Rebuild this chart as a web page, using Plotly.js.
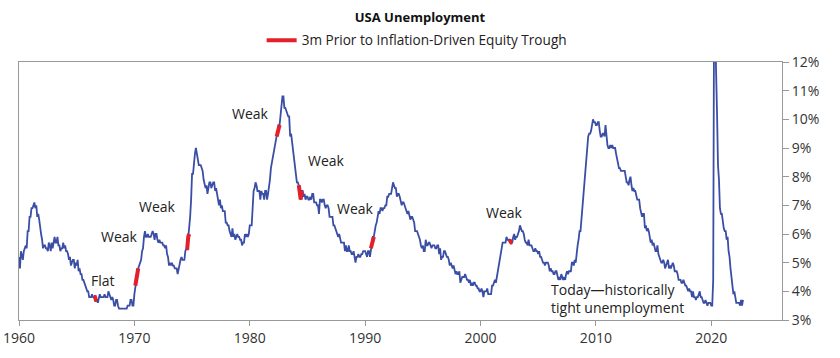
<!DOCTYPE html>
<html>
<head>
<meta charset="utf-8">
<script src="https://cdn.plot.ly/plotly-3.0.1.min.js"></script>
<style>html,body{margin:0;padding:0;background:#fff;}#chart{width:840px;height:358px;}</style>
</head>
<body>
<div id="chart"></div>
<script>
// Monthly US unemployment rate (%), Jan of start year onward
const startYear = 1960;
const u1960s = [
5.2,4.8,5.4,5.2,5.1,5.4,5.5,5.6,5.5,6.1,6.1,6.6,
6.6,6.9,6.9,7.0,7.1,6.9,7.0,6.6,6.7,6.5,6.1,6.0,
5.8,5.5,5.6,5.6,5.5,5.5,5.4,5.7,5.6,5.4,5.7,5.5,
5.7,5.9,5.7,5.7,5.9,5.6,5.6,5.4,5.5,5.5,5.7,5.5,
5.6,5.4,5.4,5.3,5.1,5.2,4.9,5.0,5.1,5.1,4.8,5.0,
4.9,5.1,4.7,4.8,4.6,4.6,4.4,4.4,4.3,4.2,4.1,4.0,
4.0,3.8,3.8,3.8,3.9,3.8,3.8,3.8,3.7,3.7,3.6,3.8,
3.9,3.8,3.8,3.8,3.8,3.9,3.8,3.8,3.8,4.0,3.9,3.8,
3.7,3.8,3.7,3.5,3.5,3.7,3.7,3.5,3.4,3.4,3.4,3.4,
3.4,3.4,3.4,3.4,3.4,3.5,3.5,3.5,3.7,3.7,3.5,3.5];
const u1970s = [
3.9,4.2,4.4,4.6,4.8,4.9,5.0,5.1,5.4,5.5,5.9,6.1,
5.9,5.9,6.0,5.9,5.9,5.9,6.0,6.1,6.0,5.8,6.0,6.0,
5.8,5.7,5.8,5.7,5.7,5.7,5.6,5.6,5.5,5.6,5.3,5.2,
4.9,5.0,4.9,5.0,4.9,4.9,4.8,4.8,4.8,4.6,4.8,4.9,
5.1,5.2,5.1,5.1,5.1,5.4,5.5,5.5,5.9,6.0,6.6,7.2,
8.1,8.1,8.6,8.8,9.0,8.8,8.6,8.4,8.4,8.4,8.3,8.2,
7.9,7.7,7.6,7.7,7.4,7.6,7.8,7.8,7.6,7.7,7.8,7.8,
7.5,7.6,7.4,7.2,7.0,7.2,6.9,7.0,6.8,6.8,6.8,6.4,
6.4,6.3,6.3,6.1,6.0,5.9,6.2,5.9,6.0,5.8,5.9,6.0,
5.9,5.9,5.8,5.8,5.6,5.7,5.7,6.0,5.9,6.0,5.9,6.0];
const u1980s = [
6.3,6.3,6.3,6.9,7.5,7.6,7.8,7.7,7.5,7.5,7.5,7.2,
7.5,7.4,7.4,7.2,7.5,7.5,7.2,7.4,7.6,7.9,8.3,8.5,
8.6,8.9,9.0,9.3,9.4,9.6,9.8,9.8,10.1,10.4,10.8,10.8,
10.4,10.4,10.3,10.2,10.1,10.1,9.4,9.5,9.2,8.8,8.5,8.3,
8.0,7.8,7.8,7.7,7.4,7.2,7.5,7.5,7.3,7.4,7.2,7.3,
7.3,7.2,7.2,7.3,7.2,7.4,7.4,7.1,7.1,7.1,7.0,7.0,
6.7,7.2,7.2,7.1,7.2,7.2,7.0,6.9,7.0,7.0,6.9,6.6,
6.6,6.6,6.6,6.3,6.3,6.2,6.1,6.0,5.9,6.0,5.8,5.7,
5.7,5.7,5.7,5.4,5.6,5.4,5.4,5.6,5.4,5.4,5.3,5.3,
5.4,5.2,5.0,5.2,5.2,5.3,5.2,5.2,5.3,5.3,5.4,5.4];
const u1990s = [
5.4,5.3,5.2,5.4,5.4,5.2,5.5,5.7,5.9,5.9,6.2,6.3,
6.4,6.6,6.8,6.7,6.9,6.9,6.8,6.9,6.9,7.0,7.0,7.3,
7.3,7.4,7.4,7.4,7.6,7.8,7.7,7.6,7.6,7.3,7.4,7.4,
7.3,7.1,7.0,7.1,7.1,7.0,6.9,6.8,6.7,6.8,6.6,6.5,
6.6,6.6,6.5,6.4,6.1,6.1,6.1,6.0,5.9,5.8,5.6,5.5,
5.6,5.4,5.4,5.8,5.6,5.6,5.7,5.7,5.6,5.5,5.6,5.6,
5.6,5.5,5.5,5.6,5.6,5.3,5.5,5.1,5.2,5.2,5.4,5.4,
5.3,5.2,5.2,5.1,4.9,5.0,4.9,4.8,4.9,4.7,4.6,4.7,
4.6,4.6,4.7,4.3,4.4,4.5,4.5,4.5,4.6,4.5,4.4,4.4,
4.3,4.4,4.2,4.3,4.2,4.3,4.3,4.2,4.2,4.1,4.1,4.0];
const u2000s = [
4.0,4.1,4.0,3.8,4.0,4.0,4.0,4.1,3.9,3.9,3.9,3.9,
4.2,4.2,4.3,4.4,4.3,4.5,4.6,4.9,5.0,5.3,5.5,5.7,
5.7,5.7,5.7,5.9,5.8,5.8,5.8,5.7,5.7,5.7,5.9,6.0,
5.8,5.9,5.9,6.0,6.1,6.3,6.2,6.1,6.1,6.0,5.8,5.7,
5.7,5.6,5.8,5.6,5.6,5.6,5.5,5.4,5.4,5.5,5.4,5.4,
5.3,5.4,5.2,5.2,5.1,5.0,5.0,4.9,5.0,5.0,5.0,4.9,
4.7,4.8,4.7,4.7,4.6,4.6,4.7,4.7,4.5,4.4,4.5,4.4,
4.6,4.5,4.4,4.5,4.4,4.6,4.7,4.6,4.7,4.7,4.7,5.0,
5.0,4.9,5.1,5.0,5.4,5.6,5.8,6.1,6.1,6.5,6.8,7.3,
7.8,8.3,8.7,9.0,9.4,9.5,9.5,9.6,9.8,10.0,9.9,9.9];
const u2010s = [
9.8,9.8,9.9,9.9,9.6,9.4,9.4,9.5,9.5,9.4,9.8,9.3,
9.1,9.0,9.0,9.1,9.0,9.1,9.0,9.0,9.0,8.8,8.6,8.5,
8.3,8.3,8.2,8.2,8.2,8.2,8.2,8.0,7.8,7.8,7.7,7.9,
8.0,7.7,7.5,7.6,7.5,7.5,7.3,7.2,7.2,7.2,6.9,6.7,
6.6,6.7,6.7,6.2,6.3,6.1,6.2,6.1,5.9,5.7,5.8,5.6,
5.7,5.5,5.4,5.4,5.6,5.3,5.2,5.1,5.0,5.0,5.1,5.0,
4.8,4.9,5.0,5.1,4.8,4.9,4.8,4.9,5.0,4.9,4.7,4.7,
4.7,4.6,4.4,4.4,4.4,4.3,4.3,4.4,4.3,4.2,4.2,4.1,
4.0,4.1,4.0,4.0,3.8,4.0,3.8,3.8,3.7,3.8,3.8,3.9,
4.0,3.8,3.8,3.7,3.6,3.6,3.7,3.6,3.5,3.6,3.6,3.6];
const u2020s = [
3.5,3.5,4.4,14.7,13.2,11.0,10.2,8.4,7.9,6.9,6.7,6.7,
6.4,6.2,6.1,6.1,5.8,5.9,5.4,5.2,4.8,4.5,4.2,3.9,
4.0,3.8,3.6,3.6,3.6,3.6,3.5,3.7,3.5,3.7];

// Periods 3 months prior to inflation-driven equity troughs [start, end] as year-month
const redPeriods = [
  ['1966-07','1966-10'],
  ['1970-02','1970-05'],
  ['1974-07','1974-10'],
  ['1982-05','1982-08'],
  ['1984-04','1984-07'],
  ['1990-07','1990-10'],
  ['2002-07','2002-10']
];

// Text labels
const labelTexts = ['Flat','Weak','Weak','Weak','Weak','Weak','Weak'];
const labelX = [1967.29,1968.67,1971.97,1980.03,1986.63,1989.14,2002.06];
const labelY = [4.39,5.93,6.97,10.21,8.57,6.90,6.76];
const todayText = 'Today\u2014historically<br>tight unemployment';
const todayX = 2005.97;
const todayY = 3.74;

const yTickVals = [3,4,5,6,7,8,9,10,11,12];
const xTickVals = [1960,1970,1980,1990,2000,2010,2020];

const values = [].concat(u1960s,u1970s,u1980s,u1990s,u2000s,u2010s,u2020s);
const xs = values.map((v,i)=> startYear + i/12);
const toIdx = s => { const [y,m] = s.split('-').map(Number); return (y-startYear)*12 + (m-1); };
const redVals = values.map((v,i)=> redPeriods.some(p => i>=toIdx(p[0]) && i<=toIdx(p[1])) ? v : null);

const fontFam = '"Open Sans", "DejaVu Sans", sans-serif';
const annotations = labelTexts.map((t,i)=>({
  x: labelX[i], y: labelY[i], xref:'x', yref:'y', text:t, showarrow:false,
  xanchor:'center', yanchor:'middle', font:{family:fontFam, size:14, color:'#222'}
})).concat([{
  x: todayX, y: todayY, xref:'x', yref:'y', text:todayText, showarrow:false, align:'left',
  xanchor:'left', yanchor:'middle', font:{family:fontFam, size:14, color:'#222'}
}]);

const traces = [
  {x: xs, y: values, type:'scatter', mode:'lines', line:{color:'#3a4ea6', width:1.8}, showlegend:false, hoverinfo:'skip'},
  {x: xs, y: redVals, type:'scatter', mode:'lines', line:{color:'#e3202a', width:4}, connectgaps:false,
   name:'3m Prior to Inflation-Driven Equity Trough', showlegend:true}
];

const layout = {
  width:840, height:358,
  margin:{l:19, r:58, t:62, b:38},
  paper_bgcolor:'#fff', plot_bgcolor:'#fff',
  font:{family:fontFam, color:'#222'},
  title:{text:'<b>USA Unemployment</b>', x:0.5, xref:'container', y:0.95, yref:'container', yanchor:'middle', xanchor:'center',
         font:{family:fontFam, size:13, color:'#111'}},
  showlegend:true,
  legend:{orientation:'h', x:0.318, xanchor:'left', y:1.084, yanchor:'middle', font:{family:fontFam, size:13.6, color:'#222'}, bgcolor:'rgba(0,0,0,0)'},
  xaxis:{range:[1960,2026.13], tickvals:xTickVals, ticktext:xTickVals.map(String), ticks:'outside', ticklen:5, tickcolor:'#999',
         showline:true, linecolor:'#999', linewidth:1, mirror:true, showgrid:false, zeroline:false,
         tickfont:{family:fontFam, size:14, color:'#333'}},
  yaxis:{range:[3,12], side:'right', tickvals:yTickVals, ticktext:yTickVals.map(v=>v+'%'), ticks:'outside', ticklen:6, tickcolor:'#999',
         showline:true, linecolor:'#999', linewidth:1, mirror:true, showgrid:false, zeroline:false,
         tickfont:{family:fontFam, size:14, color:'#333'}},
  annotations: annotations
};

Plotly.newPlot('chart', traces, layout, {displayModeBar:false, staticPlot:true});
</script>
</body>
</html>
